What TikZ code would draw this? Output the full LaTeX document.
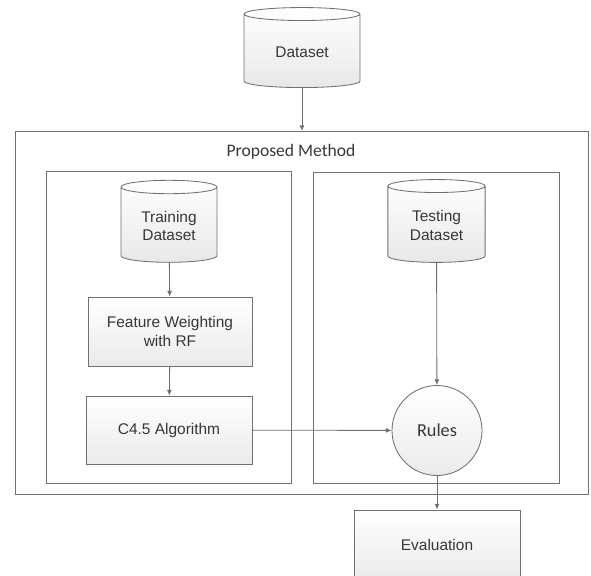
\documentclass[tikz,border=0pt]{standalone}
\usepackage{fontspec}
\setmainfont{Liberation Sans}
\newfontfamily\calfont{Carlito}
\usepackage{tikz}
\usetikzlibrary{shapes.geometric,arrows.meta}
\usepackage{xcolor}
\definecolor{linegray}{RGB}{112,112,112}
\definecolor{textgray}{RGB}{55,55,55}

\begin{document}
\begin{tikzpicture}[x=0.025cm,y=-0.025cm,
		line width=0.6pt,
		arr/.style={draw=linegray,-{Latex[length=4pt,width=3.5pt]}},
		frame/.style={draw=linegray,rectangle,inner sep=0pt,outer sep=0pt,fill=none}]
		\tikzstyle{every node}=[text=textgray,font=\fontsize{11}{13}\selectfont,align=center]
		\tikzstyle{db}=[draw=linegray,cylinder,shape border rotate=90,aspect=0.22,
		top color=white,bottom color=gray!18,inner sep=2pt]
		\tikzstyle{box}=[draw=linegray,rectangle,top color=white,bottom color=gray!16]
		\useasboundingbox (0,0) rectangle (591,575);
		\clip (0,0) rectangle (591,575);
		\node[frame,minimum width=14.325cm,minimum height=9.075cm] (method) at (301.5,312.5) {};
		\node[frame,minimum width=6.125cm,minimum height=7.8cm] (trainpart) at (168.5,327) {};
		\node[frame,minimum width=6.15cm,minimum height=7.775cm] (testpart) at (436,327.5) {};
		\node[font=\calfont\fontsize{12.5}{14}\selectfont] (methodlabel) at (291,152) {Proposed Method};
		\node[db,minimum width=2.9cm,minimum height=2cm] (dataset) at (302,52) {Dataset};
		\node[db,minimum width=2.4cm,minimum height=2.05cm] (train) at (169,226) {Training\\Dataset};
		\node[db,minimum width=2.43cm,minimum height=2.07cm] (test) at (436.5,225.5) {Testing\\Dataset};
		\node[box,minimum width=4.1cm,minimum height=1.725cm] (weight) at (170,331.5) {Feature Weighting\\with RF};
		\node[box,minimum width=4.15cm,minimum height=1.7cm] (c45) at (169,430) {C4.5 Algorithm};
		\node[draw=linegray,circle,top color=white,bottom color=gray!16,minimum size=2.25cm,
		font=\calfont\fontsize{13}{15}\selectfont] (rules) at (437,430.5) {Rules};
		\node[box,minimum width=4.15cm,minimum height=1.75cm] (eval) at (437,545) {Evaluation};
		\draw[arr] (dataset.south) -- (dataset.south |- method.north);
		\draw[arr] (train) -- (weight);
		\draw[arr] (weight) -- (c45);
		\draw[arr] (c45) -- (rules);
		\draw[arr] (test) -- (rules);
		\draw[arr] (rules) -- (eval);
		\end{tikzpicture}
\end{document}
